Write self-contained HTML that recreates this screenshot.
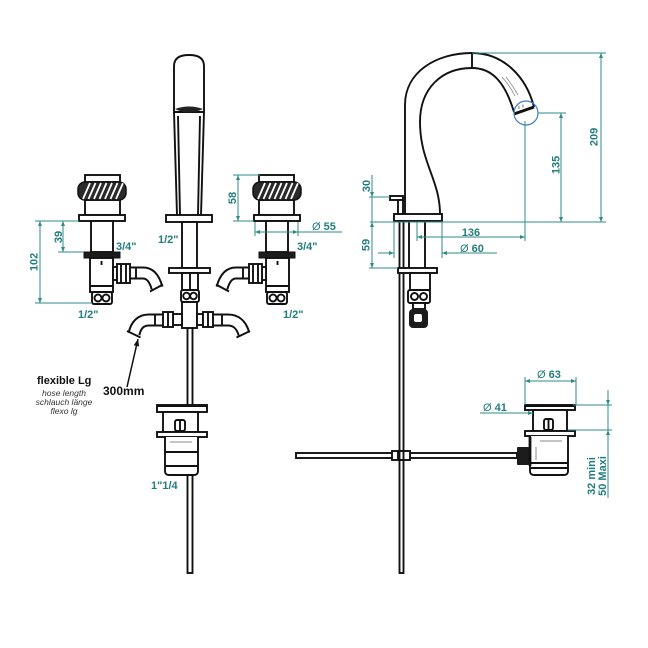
<!DOCTYPE html>
<html><head><meta charset="utf-8"><style>
html,body{margin:0;padding:0;background:#fff;}
svg{display:block;}
.k{fill:#fff;stroke:#111;stroke-width:1.9;}
.d{fill:#1c1c1c;stroke:#111;stroke-width:1;}
.ln{stroke:#111;stroke-width:1.9;fill:none;}
.dm{stroke:#2f8a8a;stroke-width:1;fill:none;}
.t{font-family:"Liberation Sans",sans-serif;font-weight:bold;font-size:11px;fill:#237d7d;}
.tn{font-family:"Liberation Sans","DejaVu Sans",sans-serif;font-size:11px;fill:#237d7d;}
</style></head><body>
<svg width="648" height="648" viewBox="0 0 648 648" xmlns="http://www.w3.org/2000/svg">
<defs>
<marker id="ar" viewBox="0 0 10 10" refX="10" refY="5" markerWidth="6" markerHeight="5" orient="auto-start-reverse" markerUnits="userSpaceOnUse"><path d="M0,1 L10,5 L0,9z" fill="#2f8a8a"/></marker>
<marker id="ab" viewBox="0 0 10 10" refX="10" refY="5" markerWidth="9" markerHeight="7" orient="auto" markerUnits="userSpaceOnUse"><path d="M0,1 L10,5 L0,9z" fill="#111"/></marker>
<clipPath id="kl"><rect x="78" y="182" width="48" height="18" rx="7"/></clipPath>
<clipPath id="kr"><rect x="253" y="182" width="48" height="18" rx="7"/></clipPath>
<g id="lv">
<rect class="k" x="85" y="175" width="35" height="7"/>
<rect class="k" x="85" y="200" width="35" height="15"/>
<rect class="k" x="79" y="215" width="46" height="6"/>
<rect class="k" x="91" y="221" width="22" height="31"/>
<rect class="d" x="84" y="252" width="36" height="6"/>
<rect class="k" x="90" y="258" width="23" height="34"/>
<line class="ln" x1="101.5" y1="261" x2="101.5" y2="265"/>
<line class="ln" x1="90" y1="286" x2="113" y2="286" stroke-width="0.9"/>
<path d="M130,273 H143 Q153,273 157,288" stroke="#111" stroke-width="13" fill="none"/>
<path d="M130,273 H143 Q153,273 157,288" stroke="#fff" stroke-width="9" fill="none"/>
<line class="ln" x1="150" y1="291.5" x2="163" y2="284.5"/>
<line class="ln" x1="136" y1="267" x2="136" y2="279" stroke-width="0.9"/>
<rect class="k" x="113" y="267" width="4" height="13"/>
<rect class="k" x="117" y="264" width="13" height="19"/>
<line class="ln" x1="121" y1="264" x2="121" y2="283" stroke-width="0.9"/>
<line class="ln" x1="126" y1="264" x2="126" y2="283" stroke-width="0.9"/>
<rect class="k" x="92" y="292" width="20" height="12" rx="2"/>
<circle class="k" cx="98" cy="298" r="3.5"/>
<circle class="k" cx="106" cy="298" r="3.5"/>
</g>
</defs>

<!-- ===== LEFT VIEW ===== -->
<use href="#lv"/>
<use href="#lv" transform="translate(379,0) scale(-1,1)"/>
<!-- knurls -->
<rect x="78" y="182" width="48" height="18" rx="7" fill="#2a2a2a" stroke="#111" stroke-width="1.5"/>
<g clip-path="url(#kl)" stroke="#fff" stroke-width="1.8">
<line x1="83" y1="199" x2="90" y2="183"/><line x1="88.5" y1="199" x2="95.5" y2="183"/><line x1="94" y1="199" x2="101" y2="183"/><line x1="99.5" y1="199" x2="106.5" y2="183"/><line x1="105" y1="199" x2="112" y2="183"/><line x1="110.5" y1="199" x2="117.5" y2="183"/><line x1="116" y1="199" x2="123" y2="183"/>
</g>
<rect x="253" y="182" width="48" height="18" rx="7" fill="#2a2a2a" stroke="#111" stroke-width="1.5"/>
<g clip-path="url(#kr)" stroke="#fff" stroke-width="1.8">
<line x1="258" y1="199" x2="265" y2="183"/><line x1="263.5" y1="199" x2="270.5" y2="183"/><line x1="269" y1="199" x2="276" y2="183"/><line x1="274.5" y1="199" x2="281.5" y2="183"/><line x1="280" y1="199" x2="287" y2="183"/><line x1="285.5" y1="199" x2="292.5" y2="183"/><line x1="291" y1="199" x2="298" y2="183"/>
</g>

<!-- center spout -->
<path class="k" d="M174,112 V66 Q174,55 189,55 Q204,55 204,66 V112 Z"/>
<path d="M175,109 Q189,104 203,109 Q189,116 175,109 Z" fill="#222"/>
<path class="ln" d="M174,112 L177,215 M204,112 L201,215"/>
<path class="ln" d="M178,116 L180,215 M200,116 L198,215" stroke-width="1"/>
<rect class="k" x="166" y="215" width="46" height="7"/>
<rect class="k" x="182" y="222" width="15" height="46"/>
<rect class="k" x="169" y="268" width="41" height="5"/>
<rect class="k" x="182" y="273" width="16" height="17"/>
<line class="ln" x1="190" y1="273" x2="190" y2="290"/>
<rect class="k" x="181" y="290" width="18" height="12" rx="2"/>
<circle class="k" cx="186.5" cy="296" r="3.3"/>
<circle class="k" cx="193.5" cy="296" r="3.3"/>
<!-- rod -->
<rect class="k" x="187.5" y="327" width="5" height="246"/>
<!-- bottom tubes -->
<path d="M163,320 H149 Q137,320 134,334" stroke="#111" stroke-width="13" fill="none"/>
<path d="M163,320 H149 Q137,320 134,334" stroke="#fff" stroke-width="9" fill="none"/>
<line class="ln" x1="127" y1="331" x2="140.5" y2="337.5"/>
<line class="ln" x1="155" y1="314" x2="155" y2="326" stroke-width="0.9"/>
<path d="M213,320 H228 Q240,320 244,334" stroke="#111" stroke-width="13" fill="none"/>
<path d="M213,320 H228 Q240,320 244,334" stroke="#fff" stroke-width="9" fill="none"/>
<line class="ln" x1="236.5" y1="337.5" x2="250" y2="331"/>
<line class="ln" x1="222" y1="314" x2="222" y2="326" stroke-width="0.9"/>
<rect class="k" x="182" y="302" width="15" height="26"/>
<rect class="k" x="173" y="314" width="9" height="11"/>
<rect class="k" x="197" y="314" width="6" height="11"/>
<rect class="k" x="163" y="312" width="10" height="15"/>
<line class="ln" x1="168" y1="312" x2="168" y2="327" stroke-width="0.9"/>
<rect class="k" x="203" y="312" width="10" height="15"/>
<line class="ln" x1="208" y1="312" x2="208" y2="327" stroke-width="0.9"/>

<!-- left drain -->
<rect class="k" x="157" y="405" width="50" height="7"/>
<line class="ln" x1="157" y1="406" x2="207" y2="406" stroke-width="2.5"/>
<rect class="k" x="163" y="412" width="35" height="20"/>
<rect class="k" x="175" y="420" width="10" height="11" rx="2"/>
<line class="ln" x1="180" y1="420" x2="180" y2="431"/>
<rect class="k" x="157" y="432" width="50" height="5"/>
<path class="k" d="M165,437 V471 Q165,475 169,475 H194 Q198,475 198,471 V437"/>
<line x1="170" y1="442" x2="192" y2="442" stroke="#888" stroke-width="1"/>
<line class="ln" x1="165" y1="452" x2="198" y2="452"/>
<line class="ln" x1="165" y1="466" x2="198" y2="466"/>

<!-- hose arrow & text -->
<line x1="127" y1="387" x2="138" y2="339" stroke="#111" stroke-width="1.5" marker-end="url(#ab)"/>
<text x="37" y="384" style="font:bold 11px 'Liberation Sans',sans-serif;fill:#111">flexible Lg</text>
<text x="103" y="395" style="font:bold 12px 'Liberation Sans',sans-serif;fill:#111">300mm</text>
<g style="font:italic 8.5px 'Liberation Sans',sans-serif;fill:#333" text-anchor="middle">
<text x="64" y="396">hose length</text>
<text x="64" y="405">schlauch länge</text>
<text x="64" y="414">flexo lg</text>
</g>

<!-- left dims -->
<g class="dm">
<line x1="35" y1="221" x2="79" y2="221"/>
<line x1="35" y1="303" x2="92" y2="303"/>
<line x1="58" y1="252" x2="84" y2="252"/>
<line x1="40" y1="221" x2="40" y2="303" marker-start="url(#ar)" marker-end="url(#ar)"/>
<line x1="63" y1="221" x2="63" y2="252" marker-start="url(#ar)" marker-end="url(#ar)"/>
<line x1="233" y1="175" x2="260" y2="175"/>
<line x1="233" y1="221" x2="254" y2="221"/>
<line x1="238" y1="175" x2="238" y2="221" marker-start="url(#ar)" marker-end="url(#ar)"/>
<line x1="255" y1="222" x2="255" y2="236"/>
<line x1="298" y1="222" x2="298" y2="236"/>
<line x1="255" y1="232" x2="298" y2="232" marker-start="url(#ar)" marker-end="url(#ar)"/>
<line x1="298" y1="232" x2="342" y2="232"/>
</g>
<text class="t" transform="translate(37.5,262) rotate(-90)" text-anchor="middle">102</text>
<text class="t" transform="translate(62,237) rotate(-90)" text-anchor="middle">39</text>
<text class="t" transform="translate(236,198) rotate(-90)" text-anchor="middle">58</text>
<text class="t" x="116" y="250">3/4"</text>
<text class="t" x="297" y="250">3/4"</text>
<text class="t" x="78" y="318">1/2"</text>
<text class="t" x="283" y="318">1/2"</text>
<text class="t" x="158" y="243">1/2"</text>
<text class="t" x="151" y="489">1"1/4</text>
<text x="312" y="230"><tspan class="tn">Ø</tspan><tspan class="t"> 55</tspan></text>

<!-- ===== RIGHT VIEW ===== -->
<path class="ln" d="M405,214 V105 C405,72 436,53 472,53 C503,53 526,76 534,107" stroke-width="2"/>
<path class="ln" d="M440,214 C440,180 420,162 420,122 C420,88 442,68 472,68 C492,68 505,82 514,112" stroke-width="2"/>
<line class="ln" x1="472" y1="53" x2="472" y2="68"/>
<line x1="514" y1="114" x2="534" y2="107" stroke="#111" stroke-width="3"/>
<path d="M502,77 Q510,86 515,96 M506,77 Q513,86 518,95" stroke="#888" stroke-width="0.8" fill="none"/>
<path d="M519,109 V106 M523,107.5 V104.5" stroke="#555" stroke-width="0.8"/>
<circle cx="526" cy="113" r="12" fill="none" stroke="#3b7dc4" stroke-width="1.2"/>
<!-- lever -->
<rect class="k" x="390" y="196" width="13" height="4"/>
<rect class="k" x="398" y="200" width="5" height="14"/>
<rect class="k" x="394" y="214" width="48" height="7"/>
<!-- below base -->
<line class="ln" x1="409" y1="221" x2="409" y2="268"/>
<line class="ln" x1="425" y1="221" x2="425" y2="268"/>
<rect class="k" x="399.5" y="221" width="4" height="352"/>
<rect class="k" x="398" y="268" width="39" height="5"/>
<rect class="k" x="410" y="273" width="20" height="17"/>
<rect class="k" x="408" y="290" width="22" height="13" rx="2"/>
<circle class="k" cx="414.5" cy="296.5" r="3.5"/>
<circle class="k" cx="423.5" cy="296.5" r="3.5"/>
<rect class="k" x="413" y="303" width="12" height="6"/>
<rect x="409" y="309" width="19" height="19" rx="4" fill="#1c1c1c"/>
<rect x="414" y="314" width="8" height="8" rx="2" fill="#fff"/>

<!-- right dims -->
<g class="dm">
<line x1="472" y1="53" x2="606" y2="53"/>
<line x1="370" y1="222" x2="606" y2="222"/>
<line x1="601" y1="53" x2="601" y2="222" marker-start="url(#ar)" marker-end="url(#ar)"/>
<line x1="538" y1="113" x2="566" y2="113"/>
<line x1="561" y1="113" x2="561" y2="222" marker-start="url(#ar)" marker-end="url(#ar)"/>
<line x1="525" y1="121" x2="525" y2="241"/>
<line x1="417" y1="222" x2="417" y2="241"/>
<line x1="417" y1="237" x2="525" y2="237" marker-start="url(#ar)" marker-end="url(#ar)"/>
<line x1="394" y1="221" x2="394" y2="258"/>
<line x1="442" y1="221" x2="442" y2="258"/>
<line x1="378" y1="253" x2="394" y2="253" marker-end="url(#ar)"/>
<line x1="497" y1="253" x2="442" y2="253" marker-end="url(#ar)"/>
<line x1="369" y1="197" x2="390" y2="197"/>
<line x1="369" y1="268" x2="398" y2="268"/>
<line x1="372" y1="175" x2="372" y2="197" marker-end="url(#ar)"/>
<line x1="372" y1="197" x2="372" y2="222"/>
<line x1="372" y1="222" x2="372" y2="268" marker-start="url(#ar)" marker-end="url(#ar)"/>
</g>
<text class="t" transform="translate(597.5,137) rotate(-90)" text-anchor="middle">209</text>
<text class="t" transform="translate(559.5,165) rotate(-90)" text-anchor="middle">135</text>
<text class="t" transform="translate(370,186) rotate(-90)" text-anchor="middle">30</text>
<text class="t" transform="translate(369.5,245) rotate(-90)" text-anchor="middle">59</text>
<text class="t" x="471" y="236" text-anchor="middle">136</text>
<text x="460" y="252"><tspan class="tn">Ø</tspan><tspan class="t"> 60</tspan></text>

<!-- bottom right drain -->
<rect class="k" x="296" y="453" width="221" height="5"/>
<rect class="k" x="392" y="451" width="18" height="9"/>
<line class="ln" x1="398" y1="451" x2="398" y2="460"/>
<rect class="k" x="399.5" y="451" width="4" height="9"/>
<rect x="517" y="447" width="12" height="18" rx="1" fill="#1c1c1c"/>
<rect class="k" x="525" y="405" width="50" height="5"/>
<line class="ln" x1="525" y1="406" x2="575" y2="406" stroke-width="2.5"/>
<rect class="k" x="533" y="410" width="34" height="21"/>
<rect class="k" x="544" y="419" width="9" height="11" rx="2"/>
<line class="ln" x1="548.5" y1="419" x2="548.5" y2="430" stroke-width="0.9"/>
<rect class="k" x="525" y="431" width="50" height="5"/>
<path class="k" d="M530,436 V471 Q530,475 534,475 H564 Q568,475 568,471 V436"/>
<line x1="530" y1="437" x2="530" y2="466" stroke="#111" stroke-width="2.8"/>
<line x1="540" y1="441" x2="562" y2="441" stroke="#888" stroke-width="1"/>
<line x1="536" y1="447" x2="536" y2="460" stroke="#888" stroke-width="1"/>
<line class="ln" x1="530" y1="463" x2="568" y2="463"/>
<line class="ln" x1="530" y1="468" x2="568" y2="468" stroke-width="0.9"/>

<g class="dm">
<line x1="525" y1="377" x2="525" y2="405"/>
<line x1="576" y1="377" x2="576" y2="405"/>
<line x1="525" y1="381" x2="576" y2="381" marker-start="url(#ar)" marker-end="url(#ar)"/>
<line x1="480" y1="413" x2="533" y2="413" marker-end="url(#ar)"/>
<line x1="573" y1="405" x2="612" y2="405"/>
<line x1="568" y1="430" x2="612" y2="430"/>
<line x1="608" y1="390" x2="608" y2="405" marker-end="url(#ar)"/>
<line x1="608" y1="405" x2="608" y2="430"/>
<line x1="608" y1="498" x2="608" y2="430" marker-end="url(#ar)"/>
</g>
<text x="537" y="378"><tspan class="tn">Ø</tspan><tspan class="t"> 63</tspan></text>
<text x="483" y="411"><tspan class="tn">Ø</tspan><tspan class="t"> 41</tspan></text>
<text class="t" transform="translate(595,476) rotate(-90)" text-anchor="middle">32 mini</text>
<text class="t" transform="translate(606,476) rotate(-90)" text-anchor="middle">50 Maxi</text>
</svg>
</body></html>
